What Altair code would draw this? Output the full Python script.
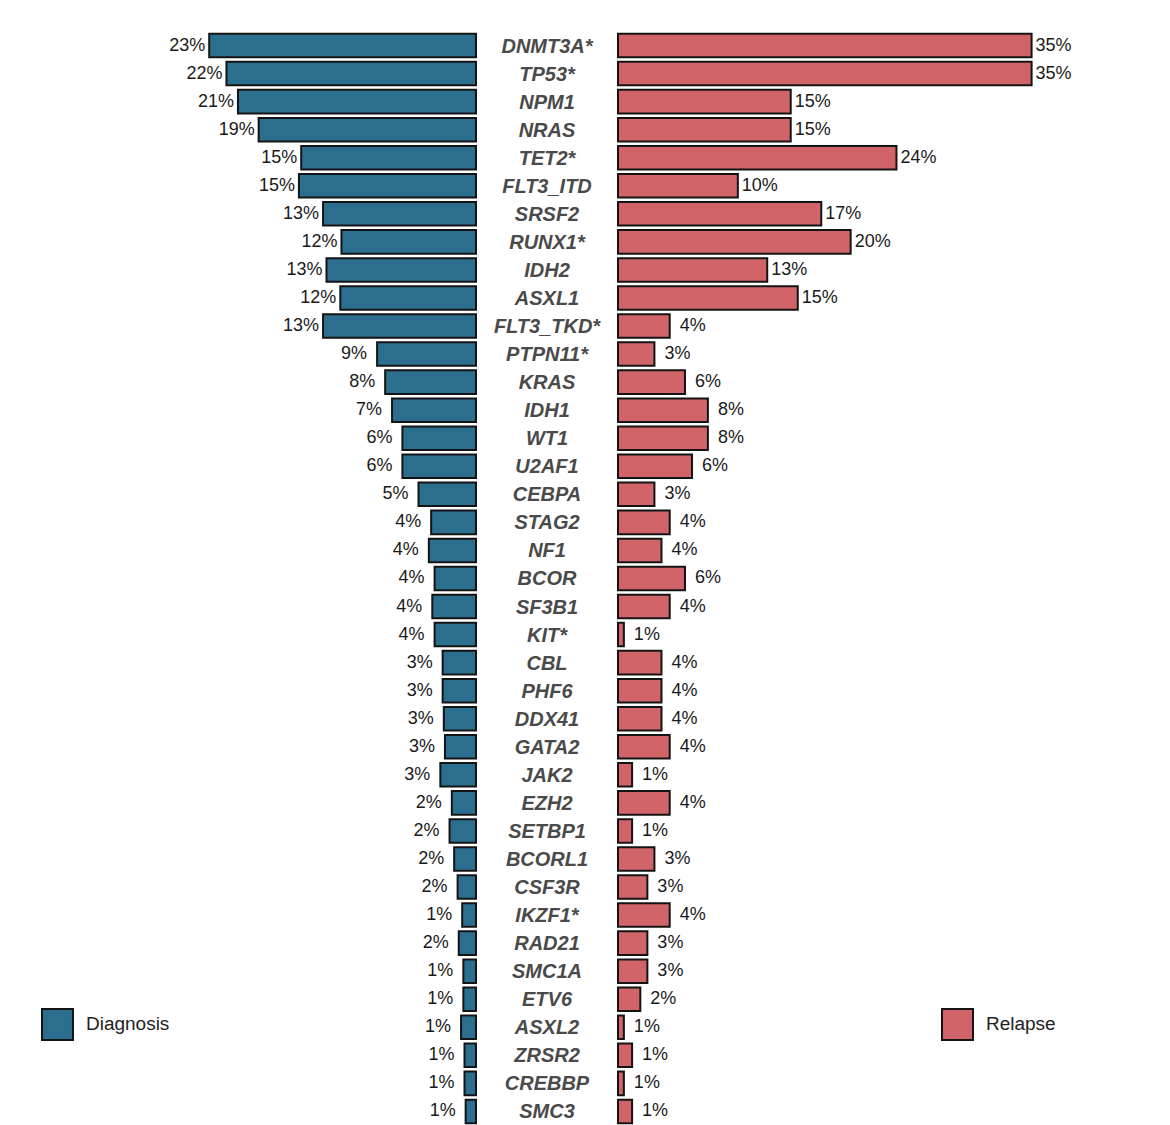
import altair as alt
import pandas as pd

genes = ["DNMT3A*", "TP53*", "NPM1", "NRAS", "TET2*", "FLT3_ITD", "SRSF2", "RUNX1*",
         "IDH2", "ASXL1", "FLT3_TKD*", "PTPN11*", "KRAS", "IDH1", "WT1", "U2AF1",
         "CEBPA", "STAG2", "NF1", "BCOR", "SF3B1", "KIT*", "CBL", "PHF6", "DDX41",
         "GATA2", "JAK2", "EZH2", "SETBP1", "BCORL1", "CSF3R", "IKZF1*", "RAD21",
         "SMC1A", "ETV6", "ASXL2", "ZRSR2", "CREBBP", "SMC3"]

diagnosis = [23.2, 21.7, 20.7, 18.9, 15.2, 15.4, 13.3, 11.7, 13.0, 11.8, 13.3, 8.6,
             7.9, 7.3, 6.4, 6.4, 5.0, 3.9, 4.1, 3.6, 3.8, 3.6, 2.9, 2.9, 2.8, 2.7,
             3.1, 2.1, 2.3, 1.9, 1.6, 1.2, 1.5, 1.1, 1.1, 1.3, 1.0, 1.0, 0.9]

relapse = [35.2, 35.2, 14.7, 14.7, 23.7, 10.2, 17.3, 19.8, 12.7, 15.3, 4.4, 3.1,
           5.7, 7.65, 7.65, 6.3, 3.1, 4.4, 3.7, 5.7, 4.4, 0.5, 3.7, 3.7, 3.7, 4.4,
           1.2, 4.4, 1.2, 3.1, 2.5, 4.4, 2.5, 2.5, 1.9, 0.5, 1.2, 0.5, 1.2]

diagnosis_labels = ["23%", "22%", "21%", "19%", "15%", "15%", "13%", "12%", "13%", "12%",
                    "13%", "9%", "8%", "7%", "6%", "6%", "5%", "4%", "4%", "4%", "4%",
                    "4%", "3%", "3%", "3%", "3%", "3%", "2%", "2%", "2%", "2%", "1%",
                    "2%", "1%", "1%", "1%", "1%", "1%", "1%"]

relapse_labels = ["35%", "35%", "15%", "15%", "24%", "10%", "17%", "20%", "13%", "15%",
                  "4%", "3%", "6%", "8%", "8%", "6%", "3%", "4%", "4%", "6%", "4%",
                  "1%", "4%", "4%", "4%", "4%", "1%", "4%", "1%", "3%", "3%", "4%",
                  "3%", "3%", "2%", "1%", "1%", "1%", "1%"]

df = pd.DataFrame({"gene": genes, "diag": diagnosis, "rel": relapse,
                   "dlab": diagnosis_labels, "rlab": relapse_labels})

BLUE = "#2c6e8e"
RED = "#d16469"
EDGE = "#141414"
FONT = "Liberation Sans"

# layout (pixels inside the plot area)
W = 1101
LEFT_ZERO = 463.0
RIGHT_ZERO = 605.0
LEFT_PX = 11.5
RIGHT_PX = 11.75

left_scale = alt.Scale(domain=[-LEFT_ZERO / LEFT_PX, (W - LEFT_ZERO) / LEFT_PX], nice=False, zero=False)
right_scale = alt.Scale(domain=[-RIGHT_ZERO / RIGHT_PX, (W - RIGHT_ZERO) / RIGHT_PX], nice=False, zero=False)

y_enc = alt.Y("gene:N", sort=genes, axis=None,
              scale=alt.Scale(paddingInner=0.16, paddingOuter=0.74))

base = alt.Chart(df).transform_calculate(neg="-datum.diag", zero="0")

legend_common = dict(orient="none", title=None, symbolType="square", symbolSize=960,
                     symbolStrokeColor=EDGE, symbolStrokeWidth=2, symbolOpacity=1,
                     labelFontSize=19, labelFont=FONT, labelColor="#222222",
                     labelOffset=12, padding=0)

left_bars = base.transform_calculate(series="'Diagnosis'").mark_bar(
    stroke=EDGE, strokeWidth=2, opacity=1
).encode(
    x=alt.X("neg:Q", scale=left_scale, axis=None),
    x2="zero:Q",
    y=y_enc,
    color=alt.Color("series:N", scale=alt.Scale(domain=["Diagnosis"], range=[BLUE]),
                    legend=alt.Legend(legendX=28, legendY=995, **legend_common)),
)

right_bars = base.transform_calculate(series="'Relapse'").mark_bar(
    stroke=EDGE, strokeWidth=2, opacity=1
).encode(
    x=alt.X("zero:Q", scale=right_scale, axis=None),
    x2="rel:Q",
    y=y_enc,
    color=alt.Color("series:N", scale=alt.Scale(domain=["Relapse"], range=[RED]),
                    legend=alt.Legend(legendX=928, legendY=995, **legend_common)),
)

text_style = dict(fontSize=18, font=FONT, color="#1a1a1a", baseline="middle")

left_lab2 = base.transform_filter("length(datum.dlab) > 2").mark_text(
    align="right", dx=-4, **text_style
).encode(x=alt.X("neg:Q", scale=left_scale, axis=None), y=y_enc, text="dlab:N")

left_lab1 = base.transform_filter("length(datum.dlab) <= 2").mark_text(
    align="right", dx=-10, **text_style
).encode(x=alt.X("neg:Q", scale=left_scale, axis=None), y=y_enc, text="dlab:N")

right_lab2 = base.transform_filter("length(datum.rlab) > 2").mark_text(
    align="left", dx=4, **text_style
).encode(x=alt.X("rel:Q", scale=right_scale, axis=None), y=y_enc, text="rlab:N")

right_lab1 = base.transform_filter("length(datum.rlab) <= 2").mark_text(
    align="left", dx=10, **text_style
).encode(x=alt.X("rel:Q", scale=right_scale, axis=None), y=y_enc, text="rlab:N")

gene_text = base.mark_text(
    align="center", baseline="middle", fontSize=20, font=FONT, fontWeight="bold",
    fontStyle="italic", color="#4a4a4a", dy=1
).encode(x=alt.value((LEFT_ZERO + RIGHT_ZERO) / 2), y=y_enc, text="gene:N")

chart = alt.layer(
    left_bars, right_bars, left_lab2, left_lab1, right_lab2, right_lab1, gene_text
).resolve_scale(
    x="independent", color="independent"
).properties(
    width=W, height=alt.Step(28.05), padding=5
).configure_view(stroke=None)

chart.save("out.html", embed_options={"renderer": "svg", "actions": False})
